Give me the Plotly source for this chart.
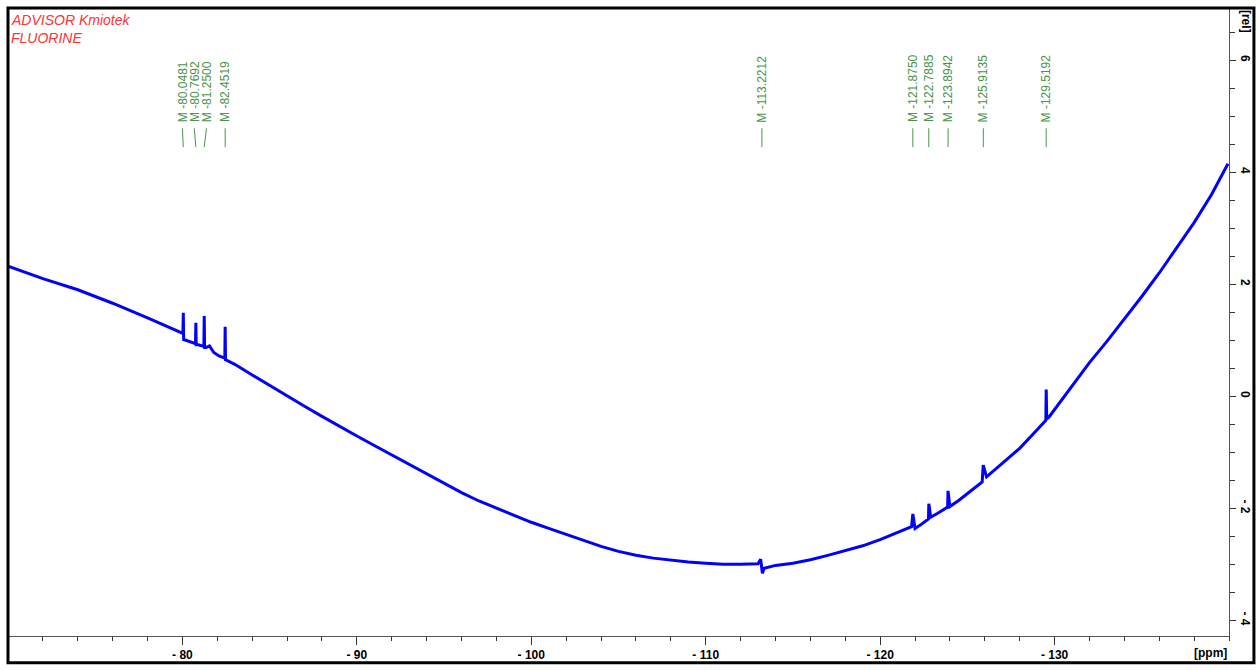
import plotly.graph_objects as go

# Spectrum (ppm, relative intensity)
ppm = [-70.0, -72.0, -74.0, -76.0, -78.0, -79.8, -80.03, -80.05, -80.07, -80.2, -80.6,
       -80.75, -80.77, -80.79, -80.9, -81.15, -81.23, -81.25, -81.27, -81.35, -81.55, -81.8,
       -82.1, -82.35, -82.43, -82.45, -82.47, -82.55, -83.0, -84.0, -85.0, -86.0, -87.0,
       -88.0, -89.0, -90.0, -91.0, -92.0, -93.0, -94.0, -95.0, -96.0, -97.0, -98.0, -99.0,
       -100.0, -101.0, -102.0, -103.0, -104.0, -105.0, -106.0, -107.0, -108.0, -109.0,
       -110.0, -111.0, -112.0, -113.0, -113.15, -113.25, -113.35, -113.7, -114.0, -115.0,
       -116.0, -117.0, -118.0, -119.0, -120.0, -121.0, -121.8, -121.875, -122.0, -122.3,
       -122.6, -122.77, -122.79, -122.9, -123.3, -123.7, -123.87, -123.89, -124.0, -124.5,
       -125.0, -125.4, -125.85, -125.91, -126.1, -127.0, -128.0, -129.0, -129.45, -129.50,
       -129.52, -129.55, -129.66, -130.0, -131.0, -132.0, -133.0, -134.0, -135.0, -136.0,
       -137.0, -138.0, -139.0, -139.94]
intensity = [2.32, 2.10, 1.90, 1.66, 1.40, 1.14, 1.12, 1.49, 1.01, 1.00, 0.95,
             0.94, 1.31, 0.92, 0.92, 0.90, 0.89, 1.43, 0.87, 0.87, 0.90, 0.78,
             0.72, 0.69, 0.68, 1.24, 0.65, 0.64, 0.57, 0.38, 0.19, 0.00, -0.18,
             -0.36, -0.54, -0.71, -0.88, -1.05, -1.22, -1.39, -1.56, -1.72, -1.87, -2.00, -2.13,
             -2.25, -2.36, -2.47, -2.58, -2.68, -2.77, -2.84, -2.89, -2.93, -2.96,
             -2.98, -3.00, -3.00, -2.99, -2.91, -3.16, -3.07, -3.04, -3.02, -2.98,
             -2.92, -2.84, -2.76, -2.67, -2.56, -2.44, -2.33, -2.10, -2.36, -2.30,
             -2.22, -2.19, -1.92, -2.16, -2.09, -2.02, -1.98, -1.69, -1.97, -1.86,
             -1.74, -1.64, -1.53, -1.23, -1.44, -1.20, -0.93, -0.60, -0.44, -0.43,
             0.12, -0.40, -0.38, -0.24, 0.18, 0.60, 0.98, 1.37, 1.78, 2.20,
             2.64, 3.10, 3.60, 4.15]

# Peak labels
peak_ppm = [-80.0481, -80.7692, -81.2500, -82.4519, -113.2212, -121.8750,
            -122.7885, -123.8942, -125.9135, -129.5192]
peak_text = ["M -80.0481", "M -80.7692", "M -81.2500", "M -82.4519", "M -113.2212",
             "M -121.8750", "M -122.7885", "M -123.8942", "M -125.9135", "M -129.5192"]
label_ppm = [-80.0, -80.68, -81.38, -82.45, -113.2212, -121.875,
             -122.7885, -123.8942, -125.9135, -129.5192]

x_ticks = [-80, -90, -100, -110, -120, -130]
x_ticktext = ["- 80", "- 90", "- 100", "- 110", "- 120", "- 130"]
y_ticks = [-4, -2, 0, 2, 4, 6]
y_ticktext = ["- 4", "- 2", "0", "2", "4", "6"]

W, H = 1260, 670
L, R, T, B = 8, 1232, 8, 640
pw, ph = R - L, B - T

def px_x(p):
    return (p - L) / pw

def px_y(p):
    return (B - p) / ph

fig = go.Figure()
fig.add_trace(go.Scatter(x=ppm, y=intensity, mode="lines",
                         line=dict(color="#0000FF", width=3), hoverinfo="skip",
                         showlegend=False))

green = "#4A944A"
FONT = "Liberation Sans, Arial"
annotations = []
shapes = []
for pk, lp, txt in zip(peak_ppm, label_ppm, peak_text):
    annotations.append(dict(x=lp, xref="x", y=px_y(125), yref="paper", text=txt,
                            textangle=-90, showarrow=False, xanchor="center",
                            yanchor="bottom",
                            font=dict(family=FONT, size=12, color=green)))
    shapes.append(dict(type="line", xref="x", yref="paper", x0=lp, x1=pk,
                       y0=px_y(129), y1=px_y(148), line=dict(color=green, width=1)))

# Title texts
annotations.append(dict(x=px_x(9), y=px_y(20), xref="paper", yref="paper",
                        text="<i>ADVISOR Kmiotek</i>", showarrow=False, xanchor="left",
                        yanchor="middle",
                        font=dict(family=FONT, size=14, color="#FF3333")))
annotations.append(dict(x=px_x(9), y=px_y(38), xref="paper", yref="paper",
                        text="<i>FLUORINE</i>", showarrow=False, xanchor="left",
                        yanchor="middle",
                        font=dict(family=FONT, size=14, color="#FF3333")))
# Axis unit labels
annotations.append(dict(x=px_x(1213), y=px_y(657), xref="paper", yref="paper",
                        text="<b>[ppm]</b>", showarrow=False, xanchor="center",
                        yanchor="middle",
                        font=dict(family=FONT, size=12, color="black")))
annotations.append(dict(x=px_x(1249), y=px_y(22), xref="paper", yref="paper",
                        text="<b>[rel]</b>", showarrow=False, textangle=90,
                        xanchor="center", yanchor="middle",
                        font=dict(family=FONT, size=12, color="black")))

# Outer frame
shapes.append(dict(type="rect", xref="paper", yref="paper",
                   x0=px_x(8), x1=px_x(1257), y0=px_y(667), y1=px_y(8),
                   line=dict(color="black", width=3), fillcolor="rgba(0,0,0,0)"))

fig.update_layout(
    width=W, height=H,
    margin=dict(l=L, r=W - R, t=T, b=H - B, pad=0),
    paper_bgcolor="white", plot_bgcolor="white",
    annotations=annotations, shapes=shapes,
    xaxis=dict(range=[-70, -140], showgrid=False, zeroline=False,
               showline=True, linecolor="#555555", linewidth=1,
               tickvals=x_ticks, ticktext=["<b>%s</b>" % t for t in x_ticktext],
               ticks="outside", ticklen=8,
               tickcolor="#333333", tickwidth=1,
               tickfont=dict(family=FONT, size=12, color="black"),
               minor=dict(dtick=2, tick0=0, ticks="outside", ticklen=4,
                          tickcolor="#333333", tickwidth=1, showgrid=False)),
    yaxis=dict(range=[-4.28, 6.93], side="right", showgrid=False, zeroline=False,
               showline=True, linecolor="#555555", linewidth=1,
               tickvals=y_ticks, ticktext=["<b>%s</b>" % t for t in y_ticktext],
               ticks="outside", ticklen=6,
               tickcolor="#333333", tickwidth=1, tickangle=90,
               tickfont=dict(family=FONT, size=12, color="black"),
               minor=dict(dtick=0.5, tick0=0, ticks="outside", ticklen=5,
                          tickcolor="#333333", tickwidth=1, showgrid=False)),
)

fig.write_html("out.html")
